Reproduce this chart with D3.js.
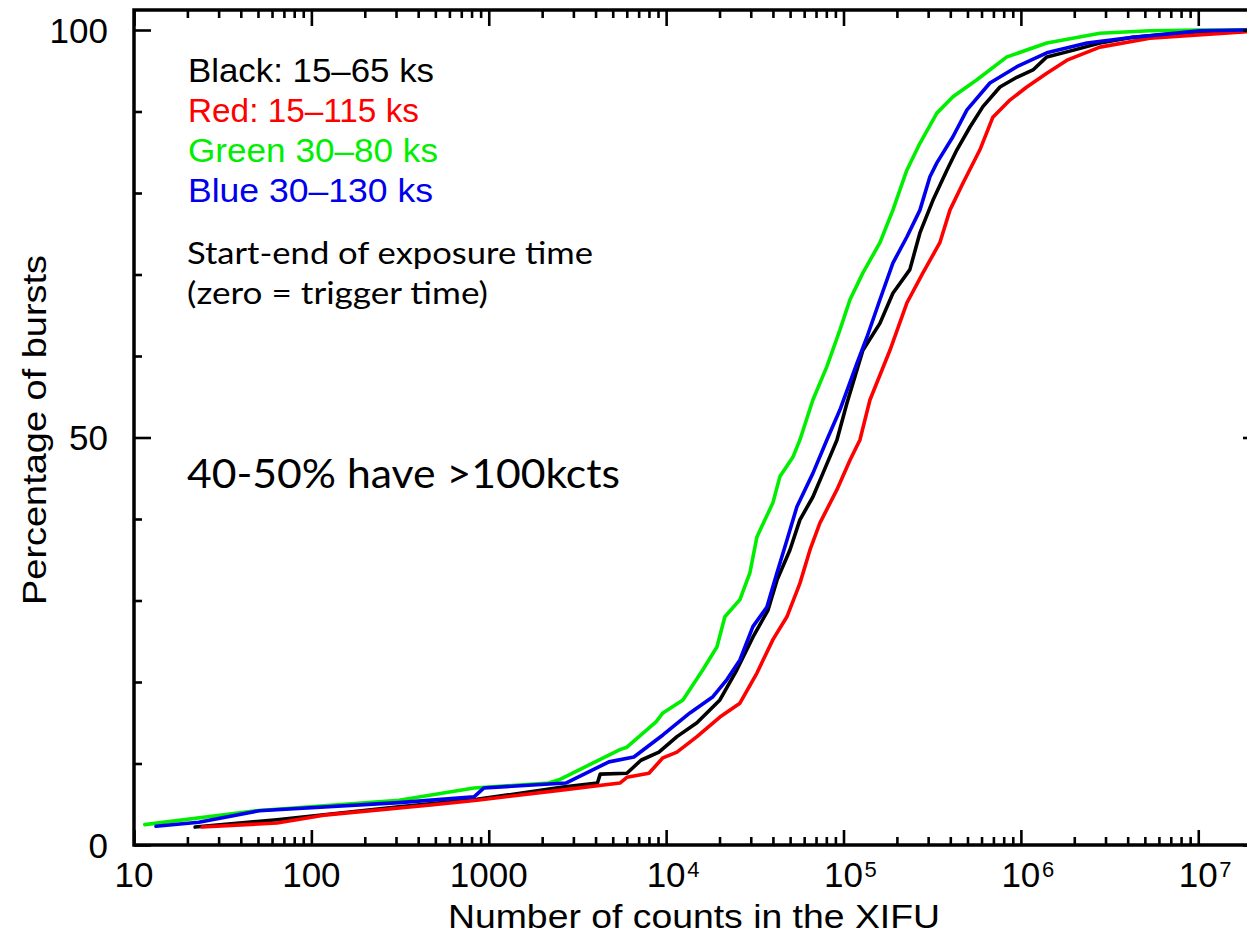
<!DOCTYPE html>
<html lang="en">
<head>
<meta charset="UTF-8">
<title>Percentage of bursts vs XIFU counts</title>
<style>
  body { margin: 0; background: #fff; }
  svg { display: block; }
</style>
</head>
<body>
<script src="https://d3js.org/d3.v7.min.js"></script>
<script>
// cumulative curves, [counts, percent of bursts]
const black = [[22.1, 2.2], [64, 3.1], [312, 4.7], [858, 5.6], [2620, 7.1], [4100, 7.6], [4250, 8.7],
  [6010, 8.8], [7210, 10.4], [9110, 11.4], [11510, 13.3], [14920, 15.0], [20100, 17.8], [25060, 21.5],
  [30840, 25.5], [37500, 28.8], [42170, 32.5], [49880, 36.2], [56770, 39.9], [67170, 42.7], [76520, 45.6],
  [91830, 49.7], [104500, 54.2], [128600, 60.7], [160400, 64.0], [189800, 67.7], [236600, 70.6],
  [269600, 75.1], [319200, 79.1], [382700, 82.8], [435800, 85.3], [516400, 88.1], [610900, 90.6],
  [762100, 93.0], [948800, 94.2], [1.17e6, 95.1], [1.40e6, 96.7], [1.96e6, 97.5], [2.79e6, 98.4],
  [4.28e6, 99.1], [1.02e7, 99.8], [1.9e7, 100]];
const red = [[24.2, 2.2], [64, 2.7], [122, 3.7], [472, 4.9], [858, 5.5], [2490, 6.7], [5490, 7.6],
  [6010, 8.3], [8000, 8.8], [9590, 10.7], [11510, 11.4], [14920, 13.3], [20100, 15.7], [26060, 17.4],
  [32500, 21.1], [40000, 25.2], [47960, 28.0], [56770, 32.1], [64700, 36.2], [73570, 39.5], [91830, 43.6],
  [108700, 47.2], [123700, 49.7], [140900, 54.6], [182700, 60.7], [227500, 66.5], [280400, 70.2],
  [349200, 73.9], [398100, 77.9], [471100, 81.2], [587500, 85.3], [695100, 89.3], [867000, 91.4],
  [1.08e6, 93.0], [1.40e6, 94.7], [1.82e6, 96.3], [2.79e6, 97.9], [5.33e6, 99.0], [1.9e7, 99.8]];
const green = [[11.5, 2.5], [48.7, 4.2], [312, 5.5], [826, 7.0], [2180, 7.6], [2490, 8.0], [5490, 11.7],
  [6010, 12.0], [8770, 15.1], [9590, 16.2], [12440, 17.8], [16110, 21.5], [19330, 24.3], [21440, 28.0],
  [26060, 30.1], [29660, 33.4], [32500, 37.8], [40000, 42.0], [43790, 45.2], [51870, 47.6], [56770, 49.7],
  [67170, 54.6], [80540, 58.7], [95480, 63.2], [108700, 66.9], [128600, 70.2], [160400, 73.9],
  [189800, 77.9], [227500, 82.8], [269600, 86.1], [335900, 89.8], [413900, 91.8], [565000, 93.9],
  [833700, 96.7], [1.40e6, 98.4], [2.79e6, 99.6], [5.33e6, 99.9], [1.02e7, 100], [1.9e7, 100]];
const blue = [[13.3, 2.3], [23.2, 2.8], [50.7, 4.2], [312, 5.2], [826, 5.9], [940, 7.0], [2720, 7.6],
  [4760, 10.2], [6580, 10.8], [9590, 13.5], [13620, 16.2], [18360, 18.2], [22020, 20.3], [26060, 22.7],
  [30840, 26.8], [36990, 29.2], [42170, 33.4], [47960, 37.4], [54600, 41.5], [67170, 45.6], [80540, 49.7],
  [95480, 53.4], [119000, 59.1], [135500, 62.3], [160400, 66.9], [189800, 71.4], [227500, 74.6],
  [269600, 77.9], [307000, 82.0], [335900, 83.7], [413900, 86.9], [496600, 90.2], [668700, 93.5],
  [948800, 95.5], [1.40e6, 97.2], [2.36e6, 98.4], [4.28e6, 99.1], [1.02e7, 99.9], [1.9e7, 100]];

const xMajor = [10, 100, 1000, 1e4, 1e5, 1e6, 1e7];
const xLabels = ["10", "100", "1000", "10|4", "10|5", "10|6", "10|7"];
const yMajor = [0, 50, 100];
const yMinor = [10, 20, 30, 40, 60, 70, 80, 90];
const legendLines = ["Black: 15\u201365 ks", "Red: 15\u2013115 ks", "Green 30\u201380 ks", "Blue 30\u2013130 ks"];
const legendColors = ["#000000", "#ff0000", "#00ee00", "#0000ee"];

const W = 1247, H = 937;
const plotL = 134, plotR = 1259, plotT = 10, plotB = 845;
const font = "'Liberation Sans', Arial, Helvetica, sans-serif";
const noteFont = "Lato, 'Open Sans', sans-serif";

const x = d3.scaleLog().domain([10, 2.2e7]).range([plotL, plotR]);
const y = d3.scaleLinear().domain([0, 100]).range([plotB, 30]);

// minor ticks: 2..9 of every decade
const xMinor = [];
xMajor.forEach(d => { for (let k = 2; k <= 9; k++) if (d * k < 2.2e7) xMinor.push(d * k); });

const svg = d3.select("body").append("svg")
    .attr("width", W)
    .attr("height", H);

svg.append("rect").attr("width", W).attr("height", H).attr("fill", "#fff");

svg.append("clipPath").attr("id", "plot")
  .append("rect")
    .attr("x", plotL).attr("y", plotT)
    .attr("width", plotR - plotL).attr("height", plotB - plotT);

// curves
const line = d3.line()
    .x(d => x(d[0]))
    .y(d => y(d[1]));

[black, red, green, blue].forEach((s, i) => {
    svg.append("path")
        .datum(s)
        .attr("clip-path", "url(#plot)")
        .attr("fill", "none")
        .attr("stroke", legendColors[i])
        .attr("stroke-width", 3.6)
        .attr("stroke-linejoin", "round")
        .attr("stroke-linecap", "round")
        .attr("d", line);
});

// ticks pointing inward on all four sides
function ticks(axis, tx, ty) {
    const g = svg.append("g")
        .attr("transform", "translate(" + tx + "," + ty + ")")
        .call(axis);
    g.select(".domain").remove();
    g.selectAll("line").attr("stroke", "#000").attr("stroke-width", 2.6);
    g.selectAll("text").remove();
    return g;
}
ticks(d3.axisBottom(x).tickValues(xMajor).tickSize(-15), 0, plotB);
ticks(d3.axisBottom(x).tickValues(xMinor).tickSize(-8), 0, plotB);
ticks(d3.axisTop(x).tickValues(xMajor).tickSize(-16), 0, plotT);
ticks(d3.axisTop(x).tickValues(xMinor).tickSize(-8), 0, plotT);
ticks(d3.axisLeft(y).tickValues(yMajor).tickSize(-17), plotL, 0);
ticks(d3.axisLeft(y).tickValues(yMinor).tickSize(-8), plotL, 0);
ticks(d3.axisRight(y).tickValues(yMajor).tickSize(-16), plotR, 0);
ticks(d3.axisRight(y).tickValues(yMinor).tickSize(-8), plotR, 0);

// frame
svg.append("rect")
    .attr("x", plotL).attr("y", plotT)
    .attr("width", plotR - plotL).attr("height", plotB - plotT)
    .attr("fill", "none")
    .attr("stroke", "#000")
    .attr("stroke-width", 3.5);

// y tick labels
svg.selectAll(".ylab").data(yMajor).join("text")
    .attr("x", 108)
    .attr("y", d => y(d))
    .attr("dy", "0.36em")
    .attr("text-anchor", "end")
    .attr("font-family", font)
    .attr("font-size", 35)
    .text(d => d);

// x tick labels, with superscripts for the powers
xMajor.forEach((d, i) => {
    const parts = xLabels[i].split("|");
    svg.append("text")
        .attr("x", x(d))
        .attr("y", 887)
        .attr("text-anchor", "middle")
        .attr("font-family", font)
        .attr("font-size", 35)
        .text(parts[0]);
    if (parts[1]) {
        svg.append("text")
            .attr("x", x(d) + 21)
            .attr("y", 877)
            .attr("font-family", font)
            .attr("font-size", 22)
            .text(parts[1]);
    }
});

// axis titles (the original lettering is a bit wide, so fix the lengths)
svg.append("text")
    .attr("x", 448)
    .attr("y", 928)
    .attr("font-family", font)
    .attr("font-size", 33)
    .attr("textLength", 492)
    .attr("lengthAdjust", "spacingAndGlyphs")
    .text("Number of counts in the XIFU");

svg.append("text")
    .attr("transform", "translate(46,605) rotate(-90)")
    .attr("font-family", font)
    .attr("font-size", 33)
    .attr("textLength", 350)
    .attr("lengthAdjust", "spacingAndGlyphs")
    .text("Percentage of bursts");

// legend
const legendWidths = [246, 231, 250, 245];
svg.selectAll(".leg").data(legendLines).join("text")
    .attr("x", 188)
    .attr("y", (d, i) => 82 + i * 40)
    .attr("font-family", font)
    .attr("font-size", 33)
    .attr("textLength", (d, i) => legendWidths[i])
    .attr("lengthAdjust", "spacingAndGlyphs")
    .attr("fill", (d, i) => legendColors[i])
    .text(d => d);

// notes
svg.append("text")
    .attr("x", 187).attr("y", 264)
    .attr("font-family", noteFont)
    .attr("font-size", 30)
    .attr("textLength", 406)
    .attr("lengthAdjust", "spacingAndGlyphs")
    .text("Start-end of exposure time");
svg.append("text")
    .attr("x", 187).attr("y", 304)
    .attr("font-family", noteFont)
    .attr("font-size", 30)
    .attr("textLength", 301)
    .attr("lengthAdjust", "spacingAndGlyphs")
    .text("(zero = trigger time)");
svg.append("text")
    .attr("x", 187).attr("y", 488)
    .attr("font-family", noteFont)
    .attr("font-size", 41)
    .attr("textLength", 433)
    .attr("lengthAdjust", "spacingAndGlyphs")
    .text("40-50% have >100kcts");
</script>
</body>
</html>
